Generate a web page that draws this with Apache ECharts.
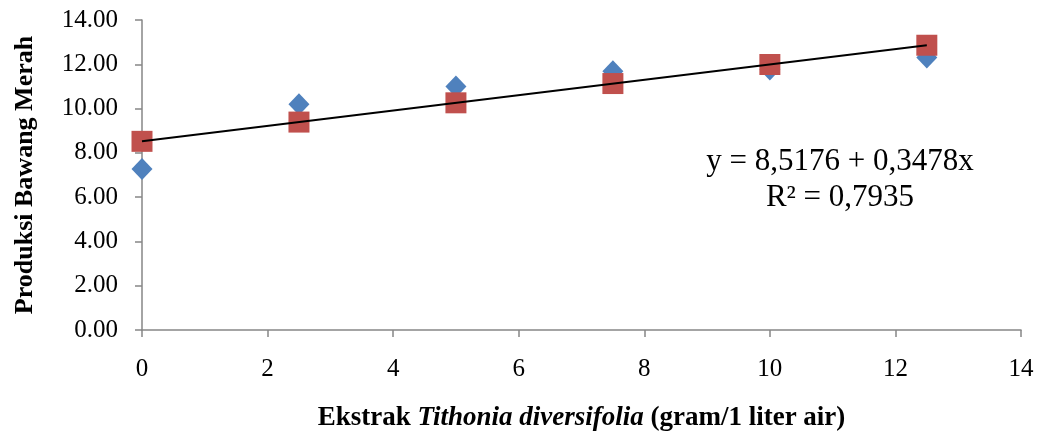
<!DOCTYPE html>
<html>
<head>
<meta charset="utf-8">
<script src="https://cdn.jsdelivr.net/npm/echarts@6/dist/echarts.min.js"></script>
<style>
html,body{margin:0;padding:0;background:#fff;}
#c{width:1040px;height:437px;}
</style>
</head>
<body>
<div id="c"></div>
<script>
const xValues = [0, 2.5, 5, 7.5, 10, 12.5];
const observed = [7.27, 10.2, 11.0, 11.68, 11.77, 12.31];
const predicted = [8.52, 9.39, 10.26, 11.13, 11.99, 12.86];
const trendX = [0, 12.5];
const trendY = [8.52, 12.86];
const equationLines = ['y = 8,5176 + 0,3478x', 'R² = 0,7935'];
const yTitle = 'Produksi Bawang Merah';

const serif = '"Liberation Serif", "Times New Roman", serif';
const axisGray = '#868686';

const chart = echarts.init(document.getElementById('c'));
chart.setOption({
  animation: false,
  backgroundColor: '#fff',
  grid: { left: 142, right: 19, top: 20, bottom: 107, containLabel: false },
  xAxis: {
    type: 'value', min: 0, max: 14, interval: 2,
    axisLine: { show: true, onZero: false, lineStyle: { color: axisGray, width: 1.5 } },
    axisTick: { show: true, inside: false, length: 7, lineStyle: { color: axisGray, width: 1.5 } },
    splitLine: { show: false },
    axisLabel: { fontFamily: serif, fontSize: 25, color: '#000', margin: 27 },
    name: '{b|Ekstrak }{i|Tithonia diversifolia}{b| (gram/1 liter air)}',
    nameLocation: 'middle', nameGap: 75,
    nameTextStyle: {
      rich: {
        b: { fontFamily: serif, fontSize: 27, fontWeight: 'bold', color: '#000' },
        i: { fontFamily: serif, fontSize: 27, fontWeight: 'bold', fontStyle: 'italic', color: '#000' }
      }
    }
  },
  yAxis: {
    type: 'value', min: 0, max: 14, interval: 2,
    axisLine: { show: true, lineStyle: { color: axisGray, width: 1.5 } },
    axisTick: { show: true, inside: false, length: 7, lineStyle: { color: axisGray, width: 1.5 } },
    splitLine: { show: false },
    axisLabel: { fontFamily: serif, fontSize: 25, color: '#000', margin: 24,
      formatter: v => v.toFixed(2) },
    name: yTitle, nameLocation: 'middle', nameGap: 104, nameRotate: 90,
    nameTextStyle: { fontFamily: serif, fontSize: 26, fontWeight: 'bold', color: '#000' }
  },
  series: [
    {
      type: 'scatter', z: 2,
      data: xValues.map((x, i) => [x, observed[i]]),
      symbol: 'diamond', symbolSize: [21, 22],
      itemStyle: { color: '#4F81BD', opacity: 1 }
    },
    {
      type: 'scatter', z: 3,
      data: xValues.map((x, i) => [x, predicted[i]]),
      symbol: 'rect', symbolSize: [21, 21],
      itemStyle: { color: '#C0504D', opacity: 1 }
    },
    {
      type: 'line', z: 4,
      data: trendX.map((x, i) => [x, trendY[i]]),
      symbol: 'none',
      lineStyle: { color: '#000', width: 2 }
    }
  ],
  graphic: [
    {
      type: 'text', x: 840, y: 180, z: 10,
      style: {
        text: equationLines.join('\n'),
        align: 'center', verticalAlign: 'middle',
        font: '31px "Liberation Serif", serif', fill: '#000', lineHeight: 36
      }
    }
  ]
});
</script>
</body>
</html>
